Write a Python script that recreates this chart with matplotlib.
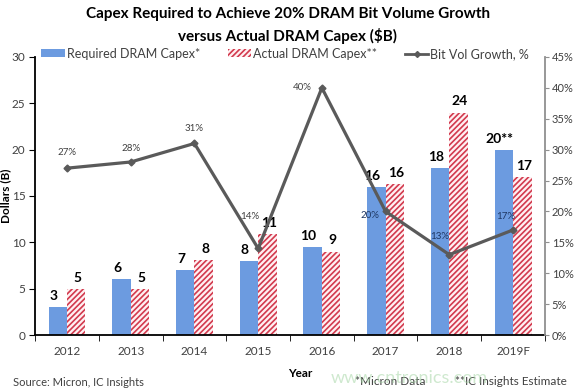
# Capex required vs actual DRAM capex, with bit volume growth line

import numpy as np
from matplotlib import pyplot as plt
from matplotlib.lines import Line2D
from matplotlib.patches import Patch

plt.rcParams['font.family'] = ['Lato', 'DejaVu Sans']
plt.rcParams['hatch.linewidth'] = 1.2

years = ['2012', '2013', '2014', '2015', '2016', '2017', '2018', '2019F']
required = [3, 6, 7, 8, 9.5, 16, 18, 20]
actual = [5, 5, 8.1, 10.9, 9, 16.3, 24, 17]
required_labels = ['3', '6', '7', '8', '10', '16', '18', '20**']
actual_labels = ['5', '5', '8', '11', '9', '16', '24', '17']
growth = [27, 28, 31, 14, 40, 20, 13, 17]

blue = '#6c9be0'
red = '#d23a4e'
grey = '#5a5a5a'

x = np.arange(len(years))
w = 0.29

fig = plt.figure(figsize=(5.76, 3.9), dpi=100)
ax = fig.add_axes([0.061, 0.141, 0.885, 0.713])

b1 = ax.bar(x - w/2, required, w, color=blue, zorder=2)
b2 = ax.bar(x + w/2, actual, w, facecolor='#fff0f2', edgecolor=red,
            hatch='//////', linewidth=0, zorder=2)

for i in range(len(x)):
    ax.annotate(required_labels[i], (x[i] - w/2, required[i]), xytext=(-3, 8), textcoords='offset points',
                ha='center', va='center', fontsize=10, fontweight='bold', color='black', zorder=5)
    ax.annotate(actual_labels[i], (x[i] + w/2, actual[i]), xytext=(1, 8), textcoords='offset points',
                ha='center', va='center', fontsize=10, fontweight='bold', color='black', zorder=5)

ax.set_xlim(-0.5, len(years) - 0.5)
ax.set_ylim(0, 30)
ax.set_yticks([0, 5, 10, 15, 20, 25, 30])
ax.set_xticks(x)
ax.set_xticklabels(years)
ax.set_xticks(np.arange(len(years) + 1) - 0.5, minor=True)
ax.tick_params(axis='x', which='major', length=0, labelsize=8.5, pad=8, colors='#404040')
ax.tick_params(axis='x', which='minor', length=4, direction='out', color='black')
ax.tick_params(axis='y', labelsize=8.5, length=4, pad=3, direction='out', colors='#404040')
ax.tick_params(axis='y', color='black')
ax.spines['top'].set_visible(False)
ax.spines['right'].set_visible(False)
ax.spines['left'].set_linewidth(1.3)
ax.spines['bottom'].set_linewidth(1.3)
ax.set_ylabel('Dollars (B)', fontsize=8.5, fontweight='bold')
ax.yaxis.set_label_coords(-0.046, 0.5)

ax2 = ax.twinx()
ax2.plot(x, growth, color=grey, linewidth=2.3, marker='D', markersize=3.5, zorder=4)
ax2.set_ylim(0, 45)
ax2.set_yticks(np.arange(0, 46, 5))
ax2.set_yticklabels([str(v) + '%' for v in range(0, 46, 5)])
ax2.tick_params(axis='y', labelsize=8, length=3, pad=2, direction='out', colors='#404040', color='#909090')
ax2.spines['top'].set_visible(False)
ax2.spines['left'].set_visible(False)
ax2.spines['bottom'].set_visible(False)
ax2.spines['right'].set_color('#909090')
ax2.spines['right'].set_linewidth(1.3)

# percent labels (offsets in points)
offs = [(0, 11.5), (0, 10), (0, 11), (-6, 23), (-14, 0), (-11, -3), (-7, 13), (-5, 9.5)]
pcols = ['#404040', '#404040', '#404040', '#404040', '#404040', '#1f3864', '#1f3864', '#1f3864']
for i in range(len(x)):
    ax2.annotate(str(growth[i]) + '%', (x[i], growth[i]), xytext=offs[i], textcoords='offset points',
                 ha='center', va='center', fontsize=7, color=pcols[i], zorder=6)

handles = [Patch(facecolor=blue, edgecolor='none'),
           Patch(facecolor='#fff0f2', edgecolor=red, hatch='//////', linewidth=0),
           Line2D([0], [0], color=grey, linewidth=2, marker='D', markersize=3)]
fig.legend(handles, ['Required DRAM Capex*', 'Actual DRAM Capex**', 'Bit Vol Growth, %'],
           loc='center left', bbox_to_anchor=(0.052, 0.862), ncol=3, frameon=False, fontsize=9,
           handlelength=1.9, handleheight=0.6, handletextpad=0.15, columnspacing=2.2,
           labelcolor='#404040')

fig.text(0.5, 0.965, 'Capex Required to Achieve 20% DRAM Bit Volume Growth',
         ha='center', va='center', fontsize=11, fontweight='bold')
fig.text(0.5, 0.907, 'versus Actual DRAM Capex ($B)',
         ha='center', va='center', fontsize=11, fontweight='bold')

fig.text(0.522, 0.043, 'Year', ha='center', va='center', fontsize=8.5, fontweight='bold')
fig.text(0.022, 0.018, 'Source: Micron, IC Insights', ha='left', va='center', fontsize=8, color='#404040')
fig.text(0.617, 0.022, '*Micron Data', ha='left', va='center', fontsize=8.5, color='#404040')
fig.text(0.79, 0.022, '**IC Insights Estimate', ha='left', va='center', fontsize=8.5, color='#404040')
fig.text(0.71, 0.03, 'www.cntronics.com', ha='center', va='center', fontsize=13, color='#9fd39f', alpha=0.5)

fig.savefig('out.png', dpi=100)
